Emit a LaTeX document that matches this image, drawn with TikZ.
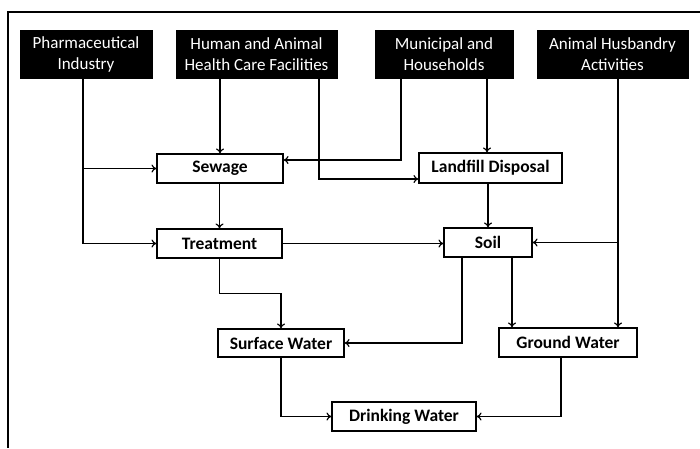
\documentclass[tikz,border=0pt]{standalone}
\usepackage{fontspec}
\setmainfont{Carlito}
\usetikzlibrary{arrows.meta,calc}
\begin{document}
\begin{tikzpicture}[x=1pt,y=-1pt,
  src/.style={fill=black,draw=black,text=white,align=center,inner sep=0pt,
    font=\fontsize{17}{21}\selectfont},
  wbox/.style={draw=black,line width=1.1pt,fill=white,inner sep=0pt,
    font=\fontsize{17.5}{21}\selectfont\bfseries},
  arr/.style={line width=1.4pt,-{To[length=5pt,width=8pt,line width=1.2pt]}},
]
\useasboundingbox (0,0) rectangle (700,448);
\draw[line width=1.8pt] (700,12) -| (8,448);
% sources
\node[src,minimum width=132,minimum height=48] (pharma) at (86,54) {Pharmaceutical\\Industry};
\node[src,minimum width=161,minimum height=48] (human) at (256.5,54) {Human and Animal\\Health Care Facilities};
\node[src,minimum width=138,minimum height=48] (municipal) at (444,54) {Municipal and\\Households};
\node[src,minimum width=151,minimum height=48] (husbandry) at (612.5,54) {Animal Husbandry\\Activities};
% boxes
\node[wbox,minimum width=126,minimum height=29] (sewage) at (220,168.5) {Sewage};
\node[wbox,minimum width=143,minimum height=30] (landfill) at (490.5,168) {Landfill Disposal};
\node[wbox,minimum width=125,minimum height=29] (treatment) at (219.5,243.5) {Treatment};
\node[wbox,minimum width=88,minimum height=29] (soil) at (488,242.5) {Soil};
\node[wbox,minimum width=126,minimum height=28] (surface) at (281,343) {Surface Water};
\node[wbox,minimum width=138,minimum height=29] (ground) at (568,342.5) {Ground Water};
\node[wbox,minimum width=144,minimum height=29] (drinking) at (404,416.5) {Drinking Water};
% connectors
\coordinate (pd) at ([xshift=-3pt]pharma.south);
\draw[arr] (pd) |- (treatment.west);
\draw[arr] (pd |- sewage.west) -- (sewage.west);
\draw[arr] (human.south -| sewage.north) -- (sewage.north);
\draw[arr] ([xshift=62.5pt]human.south) |- ([yshift=-11pt]landfill.west);
\draw[arr] ([xshift=-43pt]municipal.south) |- ([yshift=8.5pt]sewage.east);
\coordinate (md) at ([xshift=43pt]municipal.south);
\draw[arr] (md) -- (md |- landfill.north);
\draw[arr] (landfill.south -| soil.north) -- (soil.north);
\draw[arr] (sewage.south -| treatment.north) -- (treatment.north);
\draw[arr] (treatment.east) -- (treatment.east -| soil.west);
\coordinate (hd) at ([xshift=5.5pt]husbandry.south);
\draw[arr] (hd) -- (hd |- ground.north);
\draw[arr] (hd |- soil.east) -- (soil.east);
\draw[arr] (treatment.south) -- ++(0,35) -| (surface.north);
\draw[arr] ([xshift=-26pt]soil.south) |- (surface.east);
\coordinate (sg) at ([xshift=24pt]soil.south);
\draw[arr] (sg) -- (sg |- ground.north);
\draw[arr] (surface.south) |- (drinking.west);
\draw[arr] ([xshift=-7pt]ground.south) |- (drinking.east);
\end{tikzpicture}
\end{document}
